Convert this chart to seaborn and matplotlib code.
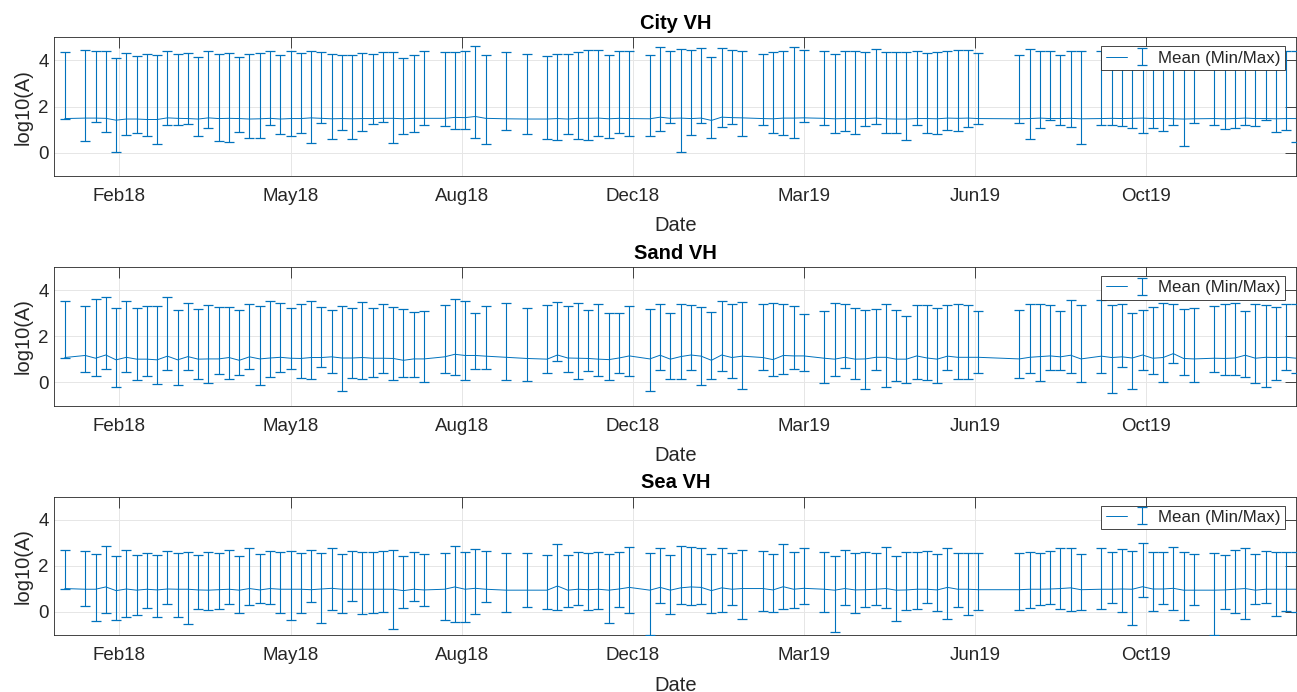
import numpy as np
import pandas as pd
import matplotlib
matplotlib.use('Agg')
import matplotlib.pyplot as plt
import matplotlib.dates as mdates
from matplotlib.legend_handler import HandlerTuple
import seaborn as sns

# ====================== DATA ======================
# acquisition dates as days after the first pass (6-day revisit, some passes missing)
start_date = '2018-01-08'
day_offset = [0, 12, 18, 24, 30, 36, 42, 48, 54, 60,
              66, 72, 78, 84, 90, 96, 102, 108, 114, 120,
              126, 132, 138, 144, 150, 156, 162, 168, 174, 180,
              186, 192, 198, 204, 210, 222, 228, 234, 240, 246,
              258, 270, 282, 288, 294, 300, 306, 312, 318, 324,
              330, 342, 348, 354, 360, 366, 372, 378, 384, 390,
              396, 408, 414, 420, 426, 432, 444, 450, 456, 462,
              468, 474, 480, 486, 492, 498, 504, 510, 516, 522,
              528, 534, 558, 564, 570, 576, 582, 588, 594, 606,
              612, 618, 624, 630, 636, 642, 648, 654, 660, 672,
              678, 684, 690, 696, 702, 708, 714, 720]

city_mean = [1.48, 1.50, 1.50, 1.49, 1.41, 1.46, 1.46, 1.44, 1.44, 1.51,
             1.49, 1.48, 1.46, 1.51, 1.48, 1.49, 1.48, 1.46, 1.47, 1.49,
             1.46, 1.48, 1.48, 1.51, 1.49, 1.47, 1.48, 1.47, 1.48, 1.48,
             1.49, 1.49, 1.47, 1.49, 1.49, 1.49, 1.53, 1.52, 1.57, 1.49,
             1.47, 1.46, 1.46, 1.48, 1.46, 1.49, 1.49, 1.50, 1.47, 1.49,
             1.48, 1.47, 1.54, 1.49, 1.50, 1.48, 1.50, 1.40, 1.54, 1.52,
             1.51, 1.48, 1.47, 1.50, 1.50, 1.51, 1.49, 1.47, 1.48, 1.48,
             1.48, 1.50, 1.47, 1.46, 1.46, 1.48, 1.48, 1.47, 1.50, 1.49,
             1.50, 1.48, 1.47, 1.48, 1.50, 1.48, 1.48, 1.49, 1.47, 1.48,
             1.49, 1.48, 1.49, 1.50, 1.48, 1.49, 1.47, 1.46, 1.47, 1.48,
             1.47, 1.48, 1.50, 1.48, 1.48, 1.47, 1.48, 1.48]
city_min = [1.48, 0.50, 1.31, 0.91, 0.01, 0.78, 0.85, 0.71, 0.39, 1.21,
            1.21, 1.25, 0.73, 1.08, 0.50, 0.46, 0.88, 0.65, 0.62, 1.18,
            0.83, 0.72, 0.86, 0.43, 1.28, 0.58, 0.98, 0.59, 0.95, 1.24,
            1.31, 0.40, 0.83, 0.89, 1.21, 1.15, 1.02, 1.02, 0.65, 0.39,
            0.99, 0.79, 0.59, 0.55, 0.82, 0.59, 0.55, 0.73, 0.63, 0.85,
            0.73, 0.73, 0.95, 1.29, 0.01, 0.75, 1.27, 0.65, 1.12, 1.25,
            0.71, 1.21, 0.86, 0.76, 0.65, 1.34, 1.21, 0.85, 0.92, 0.83,
            1.15, 1.25, 0.85, 0.86, 0.56, 1.18, 0.86, 0.83, 0.98, 0.94,
            1.12, 1.25, 1.28, 0.58, 1.05, 1.42, 1.21, 1.11, 0.39, 1.22,
            1.19, 1.17, 1.09, 0.86, 1.08, 0.94, 1.18, 0.30, 1.28, 1.19,
            1.01, 1.06, 1.19, 1.14, 1.42, 0.88, 0.98, 0.45]
city_max = [4.36, 4.45, 4.42, 4.43, 4.10, 4.33, 4.19, 4.26, 4.23, 4.42,
            4.27, 4.32, 4.16, 4.40, 4.26, 4.32, 4.14, 4.27, 4.32, 4.40,
            4.23, 4.40, 4.33, 4.40, 4.37, 4.26, 4.23, 4.22, 4.32, 4.30,
            4.35, 4.36, 4.12, 4.22, 4.39, 4.36, 4.37, 4.39, 4.63, 4.22,
            4.36, 4.27, 4.20, 4.26, 4.27, 4.37, 4.45, 4.45, 4.22, 4.40,
            4.42, 4.23, 4.58, 4.39, 4.49, 4.46, 4.55, 4.14, 4.53, 4.46,
            4.40, 4.30, 4.37, 4.42, 4.59, 4.47, 4.39, 4.27, 4.40, 4.39,
            4.35, 4.49, 4.36, 4.35, 4.35, 4.40, 4.32, 4.36, 4.43, 4.45,
            4.45, 4.33, 4.24, 4.49, 4.42, 4.42, 4.24, 4.42, 4.40, 4.39,
            4.38, 4.42, 4.36, 4.45, 4.33, 4.41, 4.37, 4.44, 4.35, 4.40,
            4.38, 4.43, 4.36, 4.41, 4.39, 4.34, 4.42, 4.39]

sand_mean = [1.08, 1.17, 1.05, 1.19, 0.98, 1.09, 1.01, 1.01, 0.98, 1.14,
             0.98, 1.12, 1.01, 1.02, 1.02, 1.08, 0.96, 1.11, 1.02, 1.06,
             1.09, 1.05, 1.04, 1.08, 1.08, 1.11, 1.06, 1.06, 1.08, 1.05,
             1.05, 1.04, 0.96, 1.02, 1.02, 1.11, 1.22, 1.17, 1.17, 1.14,
             1.09, 1.04, 1.01, 1.19, 1.06, 1.05, 1.04, 1.01, 0.99, 1.06,
             1.15, 1.02, 1.18, 1.01, 1.12, 1.19, 1.14, 0.96, 1.19, 1.08,
             1.14, 1.08, 0.99, 1.17, 1.15, 1.15, 1.05, 1.01, 1.09, 1.01,
             1.02, 1.09, 1.09, 1.01, 1.01, 1.15, 1.06, 1.01, 1.14, 1.09,
             1.09, 1.09, 1.02, 1.09, 1.12, 1.15, 1.11, 1.18, 1.02, 1.14,
             1.08, 1.11, 1.06, 1.19, 1.05, 1.08, 1.25, 1.04, 1.02, 1.05,
             1.04, 1.06, 1.18, 1.05, 1.09, 1.08, 1.09, 1.05]
sand_min = [1.08, 0.47, 0.30, 0.59, -0.20, 0.45, 0.12, 0.30, -0.07, 0.56,
            -0.13, 0.56, 0.13, -0.04, 0.36, 0.13, 0.33, 0.58, -0.09, 0.22,
            0.46, 0.60, 0.20, 0.16, 0.68, 0.43, -0.35, 0.19, 0.16, 0.24,
            0.42, 0.09, 0.22, 0.22, 0.03, 0.43, 0.33, 0.09, 0.60, 0.58,
            0.12, 0.07, 0.43, 0.91, 0.45, 0.16, 0.49, 0.27, 0.12, 0.43,
            0.29, -0.37, 0.55, 0.16, 0.13, 0.52, -0.13, 0.14, 0.50, 0.20,
            -0.30, 0.56, 0.26, 0.37, 0.60, 0.50, -0.01, 0.27, 0.63, 0.16,
            -0.30, 0.55, -0.19, 0.07, -0.03, 0.14, 0.12, -0.01, 0.53, 0.16,
            0.14, 0.43, 0.19, 0.43, 0.07, 0.56, 0.53, 0.40, 0.04, 0.43,
            -0.47, 0.66, -0.27, 0.55, 0.37, 0.03, 0.85, 0.33, 0.03, 0.47,
            0.32, 0.32, 0.23, -0.03, -0.19, 0.12, 0.53, 0.40]
sand_max = [3.55, 3.31, 3.63, 3.71, 3.21, 3.54, 3.24, 3.32, 3.32, 3.71,
            3.14, 3.45, 3.18, 3.35, 3.28, 3.25, 3.15, 3.41, 3.31, 3.54,
            3.44, 3.22, 3.40, 3.54, 3.29, 3.15, 3.32, 3.24, 3.50, 3.21,
            3.41, 3.27, 3.19, 3.06, 3.11, 3.35, 3.63, 3.54, 3.02, 3.31,
            3.45, 3.22, 3.35, 3.50, 3.32, 3.44, 3.12, 3.40, 2.99, 3.02,
            3.32, 3.17, 3.41, 3.02, 3.41, 3.37, 3.28, 3.05, 3.55, 3.41,
            3.50, 3.38, 3.45, 3.41, 3.32, 2.96, 3.08, 3.45, 3.41, 3.24,
            3.14, 3.19, 3.41, 3.15, 2.89, 3.35, 3.35, 3.24, 3.35, 3.41,
            3.34, 3.11, 3.12, 3.38, 3.42, 3.37, 3.11, 3.58, 3.37, 3.58,
            3.35, 3.42, 3.02, 3.15, 3.29, 3.45, 3.40, 3.17, 3.22, 3.31,
            3.38, 3.44, 3.09, 3.40, 3.36, 3.28, 3.42, 3.38]

sea_mean = [1.01, 0.98, 0.98, 1.08, 0.92, 0.99, 0.94, 0.98, 0.95, 0.99,
            0.98, 0.98, 0.95, 0.94, 0.96, 0.98, 0.94, 1.01, 0.95, 1.01,
            0.98, 0.98, 0.98, 0.96, 0.99, 1.02, 0.98, 0.98, 0.98, 0.98,
            0.98, 0.98, 0.92, 0.98, 0.95, 0.98, 1.08, 0.98, 1.02, 0.98,
            0.94, 0.94, 0.94, 1.12, 0.94, 0.98, 0.96, 0.98, 0.94, 0.99,
            1.06, 0.94, 1.06, 0.94, 1.04, 1.08, 1.06, 0.92, 1.04, 0.98,
            1.01, 1.01, 0.95, 1.09, 0.98, 1.02, 0.98, 0.94, 1.01, 0.95,
            0.96, 0.98, 1.01, 0.94, 0.95, 0.98, 0.98, 0.95, 1.06, 0.98,
            0.98, 0.96, 0.96, 0.98, 0.98, 0.99, 1.01, 1.04, 0.96, 0.98,
            0.98, 0.99, 0.98, 1.09, 0.99, 0.99, 1.02, 0.94, 0.94, 0.94,
            0.95, 0.98, 1.01, 0.94, 0.98, 0.98, 0.98, 0.98]
sea_min = [1.01, 0.27, -0.39, -0.03, -0.35, -0.23, -0.12, 0.16, -0.24, 0.32,
           -0.22, -0.53, 0.14, 0.09, 0.12, 0.32, -0.03, 0.30, 0.40, 0.33,
           -0.03, -0.35, -0.04, 0.42, -0.49, 0.07, -0.06, 0.45, -0.10, -0.04,
           0.00, -0.76, 0.16, 0.47, 0.24, -0.37, -0.42, -0.43, -0.10, 0.43,
           0.00, 0.22, 0.13, 0.10, 0.19, 0.30, 0.07, 0.12, -0.47, 0.19,
           -0.04, -0.99, 0.39, -0.09, 0.33, 0.30, 0.33, -0.06, -0.01, 0.30,
           -0.33, 0.04, -0.01, 0.14, 0.16, 0.32, 0.00, -0.89, 0.29, -0.07,
           0.20, 0.29, 0.17, -0.40, 0.07, 0.14, 0.39, 0.04, -0.30, 0.20,
           -0.13, 0.06, 0.07, 0.16, 0.29, 0.35, 0.13, 0.04, 0.07, 0.13,
           0.39, 0.01, -0.58, 0.65, 0.03, 0.33, 0.09, -0.36, 0.29, -0.99,
           0.14, -0.06, -0.33, 0.36, 0.40, -0.19, 0.03, 0.00]
sea_max = [2.68, 2.62, 2.50, 2.86, 2.42, 2.68, 2.46, 2.56, 2.47, 2.62,
           2.53, 2.60, 2.46, 2.60, 2.56, 2.68, 2.42, 2.75, 2.50, 2.63,
           2.59, 2.65, 2.55, 2.69, 2.56, 2.75, 2.52, 2.65, 2.59, 2.60,
           2.65, 2.69, 2.43, 2.60, 2.50, 2.53, 2.85, 2.58, 2.71, 2.63,
           2.56, 2.56, 2.47, 2.92, 2.46, 2.60, 2.53, 2.59, 2.50, 2.60,
           2.81, 2.56, 2.76, 2.46, 2.86, 2.82, 2.78, 2.50, 2.78, 2.56,
           2.68, 2.65, 2.50, 2.94, 2.58, 2.78, 2.59, 2.43, 2.68, 2.55,
           2.60, 2.56, 2.82, 2.43, 2.58, 2.58, 2.65, 2.52, 2.78, 2.55,
           2.56, 2.56, 2.56, 2.60, 2.53, 2.65, 2.75, 2.75, 2.52, 2.76,
           2.60, 2.71, 2.63, 2.99, 2.60, 2.60, 2.83, 2.60, 2.49, 2.56,
           2.45, 2.66, 2.75, 2.50, 2.62, 2.60, 2.58, 2.58]

panel_titles = ['City VH', 'Sand VH', 'Sea VH']
tick_dates = ['2018-02-09', '2018-05-20', '2018-08-28', '2018-12-06',
              '2019-03-16', '2019-06-24', '2019-10-02']
x_limits = ['2018-01-02', '2019-12-29']

# ====================== STYLE ======================
sns.set_theme(style='whitegrid')
plt.rcParams['font.family'] = ['Liberation Sans', 'DejaVu Sans']

BLUE = '#0072BD'
DARK = '#262626'

dates = pd.Timestamp(start_date) + pd.to_timedelta(day_offset, unit='D')
series = [(city_mean, city_min, city_max),
          (sand_mean, sand_min, sand_max),
          (sea_mean, sea_min, sea_max)]

fig = plt.figure(figsize=(12.97, 6.92), dpi=100, facecolor='white')
bottoms = [0.746, 0.414, 0.0825]

for title, (mean, vmin, vmax), bottom in zip(panel_titles, series, bottoms):
    ax = fig.add_axes([0.042, bottom, 0.9576, 0.2])
    mean = np.array(mean)
    lo = mean - np.array(vmin)
    hi = np.array(vmax) - mean

    eb = ax.errorbar(dates, mean, yerr=[lo, hi], fmt='none', ecolor=BLUE,
                     elinewidth=0.8, capsize=3.6, capthick=0.9, zorder=3)
    sns.lineplot(x=dates, y=mean, ax=ax, color=BLUE, lw=0.7, legend=False, zorder=3)
    mean_line = ax.lines[-1]

    ax.set_ylim(-1, 5)
    ax.set_yticks([0, 2, 4])
    ax.set_xlim(pd.Timestamp(x_limits[0]), pd.Timestamp(x_limits[1]))
    ax.set_xticks(pd.to_datetime(tick_dates))
    ax.xaxis.set_major_formatter(mdates.DateFormatter('%b%y'))

    ax.set_facecolor('white')
    ax.grid(True, color='#e6e6e6', lw=0.7)
    ax.set_axisbelow(True)
    for sp in ax.spines.values():
        sp.set_visible(True)
        sp.set_color(DARK)
        sp.set_linewidth(0.6)
    ax.tick_params(direction='in', length=8, width=0.6, color=DARK,
                   top=True, right=True, labelsize=13.5, labelcolor=DARK)
    ax.tick_params(axis='x', pad=9)
    ax.tick_params(axis='y', pad=4)

    ax.set_title(title, fontsize=14.5, fontweight='bold', color='black', pad=6)
    ax.set_xlabel('Date', fontsize=14.5, color=DARK, labelpad=8)
    ax.set_ylabel('log10(A)', fontsize=14.5, color=DARK, labelpad=4)

    leg = ax.legend([(mean_line, eb)], ['Mean (Min/Max)'],
                    handler_map={tuple: HandlerTuple(ndivide=None)},
                    loc='upper right', bbox_to_anchor=(0.9907, 0.935),
                    borderaxespad=0, fontsize=12.2, frameon=True, fancybox=False,
                    framealpha=1, edgecolor=DARK, handlelength=2.8,
                    handletextpad=0.3, borderpad=0.25)
    leg.get_frame().set_linewidth(0.6)
    leg.set_zorder(5)

plt.savefig('out.png', dpi=100, facecolor='white')
